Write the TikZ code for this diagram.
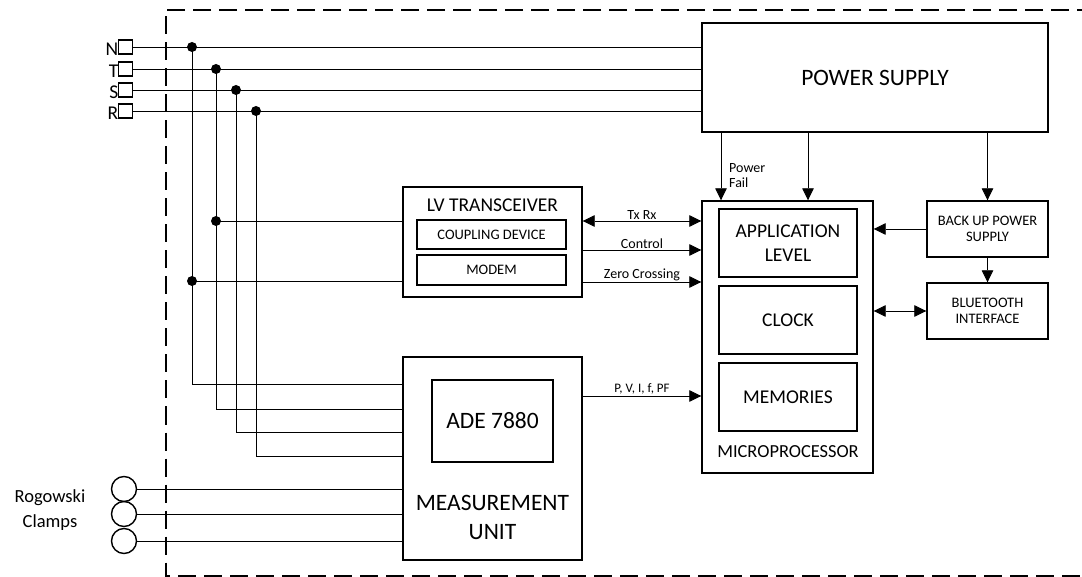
\documentclass[tikz,border=0pt]{standalone}
\usepackage{fontspec}
\setmainfont{Carlito}
\usetikzlibrary{arrows.meta}
\begin{document}
\begin{tikzpicture}[x=1pt,y=-1pt,
  blk/.style={draw, line width=1.4pt, inner sep=0pt, align=center},
  wire/.style={line width=0.8pt},
  arr/.style={wire, -{Triangle[length=12pt,width=11.5pt]}},
  darr/.style={wire, {Triangle[length=12pt,width=11.5pt]}-{Triangle[length=12pt,width=11.5pt]}},
  dot/.style={circle, fill, inner sep=0pt, minimum size=10pt},
  term/.style={draw, line width=1.4pt, minimum size=14pt, inner sep=0pt},
  clamp/.style={circle, draw, line width=1.4pt, minimum size=25pt, inner sep=0pt},
  big/.style={font=\fontsize{23.5}{29}\selectfont},
  mid/.style={font=\fontsize{19.5}{24}\selectfont},
  sml/.style={font=\fontsize{14.5}{16.5}\selectfont},
  lbl/.style={font=\fontsize{14}{15}\selectfont, inner sep=1pt},
]
\useasboundingbox (0,0) rectangle (1082,577);
% dashed enclosure
\draw[line width=2pt, dash pattern=on 18pt off 8pt] (1095,10) -- (165.5,10) -- (165.5,576) -- (1095,576);

% blocks
\node[blk, big, minimum width=346pt, minimum height=109pt] (ps) at (875,77.5) {POWER SUPPLY};
\node[blk, minimum width=171pt, minimum height=272pt] (mcu) at (787.5,337) {};
\node[blk, mid, minimum width=138pt, minimum height=68pt] (app) at (788,243) {APPLICATION\\LEVEL};
\node[blk, mid, minimum width=138pt, minimum height=68pt] (clk) at (788,320) {CLOCK};
\node[blk, mid, minimum width=138pt, minimum height=68pt] (mem) at (788,397) {MEMORIES};
\node[font=\fontsize{18.4}{22}\selectfont] (mcut) at (788,452) {MICROPROCESSOR};
\node[blk, sml, minimum width=121pt, minimum height=56pt] (bup) at (987.5,229) {BACK UP POWER\\SUPPLY};
\node[blk, sml, minimum width=121pt, minimum height=56pt] (bt) at (987.5,311) {BLUETOOTH\\INTERFACE};
\node[blk, minimum width=179pt, minimum height=110pt] (lv) at (492.5,242) {};
\node[mid] (lvt) at (492.5,205) {LV TRANSCEIVER};
\node[blk, sml, minimum width=149pt, minimum height=29pt] (cpl) at (491.5,234.5) {COUPLING DEVICE};
\node[blk, sml, minimum width=149pt, minimum height=30pt] (mod) at (491.5,270) {MODEM};
\node[blk, minimum width=179pt, minimum height=203pt] (mu) at (492.5,458.5) {};
\node[blk, big, minimum width=121pt, minimum height=82pt] (ade) at (492.5,421) {ADE 7880};
\node[big, align=center] (mut) at (492.5,517) {MEASUREMENT\\UNIT};

% terminals and phase lines
\foreach \n/\y/\dx in {N/47/192,T/69/216,S/90/236,R/111/256} {
  \node[term] (t\n) at (125.5,\y) {};
  \node[mid, anchor=east, inner sep=0pt] (l\n) at (118.5,\y+2) {\n};
  \node[dot] (d\n) at (\dx,\y) {};
  \draw[wire] (t\n.east) -- (t\n.east -| ps.west);
}
\coordinate (mN) at (403,384);
\coordinate (mT) at (403,409);
\coordinate (mS) at (403,432);
\coordinate (mR) at (403,456);
\foreach \n in {N,T,S,R} {
  \draw[wire] (d\n.center) |- (m\n);
}
% branches to LV transceiver
\node[dot] (bT) at (216,221) {};
\node[dot] (bN) at (192,281) {};
\draw[wire] (bT.center) -- (bT.center -| lv.west);
\draw[wire] (bN.center) -- (bN.center -| lv.west);

% Rogowski clamps
\node[clamp] (c1) at (124,489) {};
\node[clamp] (c2) at (124,514) {};
\node[clamp] (c3) at (124,541) {};
\foreach \c in {c1,c2,c3} {
  \draw[wire] (\c.east) -- (\c.east -| mu.west);
}
\node[font=\fontsize{18.5}{25}\selectfont, align=center] (rog) at (50,510) {Rogowski\\Clamps};

% power supply feeds
\coordinate (xa) at (721,0);
\coordinate (xb) at (808,0);
\coordinate (xc) at (987.5,0);
\draw[arr] (xa |- ps.south) -- (xa |- mcu.north);
\draw[arr] (xb |- ps.south) -- (xb |- mcu.north);
\draw[arr] (xc |- ps.south) -- (bup.north);
\node[lbl, anchor=west, align=left] (pf) at (728,176) {Power\\Fail};
\draw[arr] (bup.west) -- (bup.west -| mcu.east);
\draw[arr] (bup.south) -- (bt.north);
\draw[darr] (bt.west) -- (bt.west -| mcu.east);

% signal lines
\coordinate (ytx) at (0,221);
\coordinate (yctl) at (0,250);
\coordinate (yzc) at (0,282);
\coordinate (ypv) at (0,396);
\draw[darr] (lv.east |- ytx) -- (mcu.west |- ytx) node[midway, above=0pt, lbl] (ltx) {Tx Rx};
\draw[arr] (lv.east |- yctl) -- (mcu.west |- yctl) node[midway, above=0pt, lbl] (lctl) {Control};
\draw[arr] (lv.east |- yzc) -- (mcu.west |- yzc) node[midway, above=0pt, lbl] (lzc) {Zero Crossing};
\draw[arr] (mu.east |- ypv) -- (mcu.west |- ypv) node[midway, above=0pt, lbl, font=\fontsize{13}{14}\selectfont] (lpv) {P, V, I, f, PF};
\end{tikzpicture}
\end{document}
